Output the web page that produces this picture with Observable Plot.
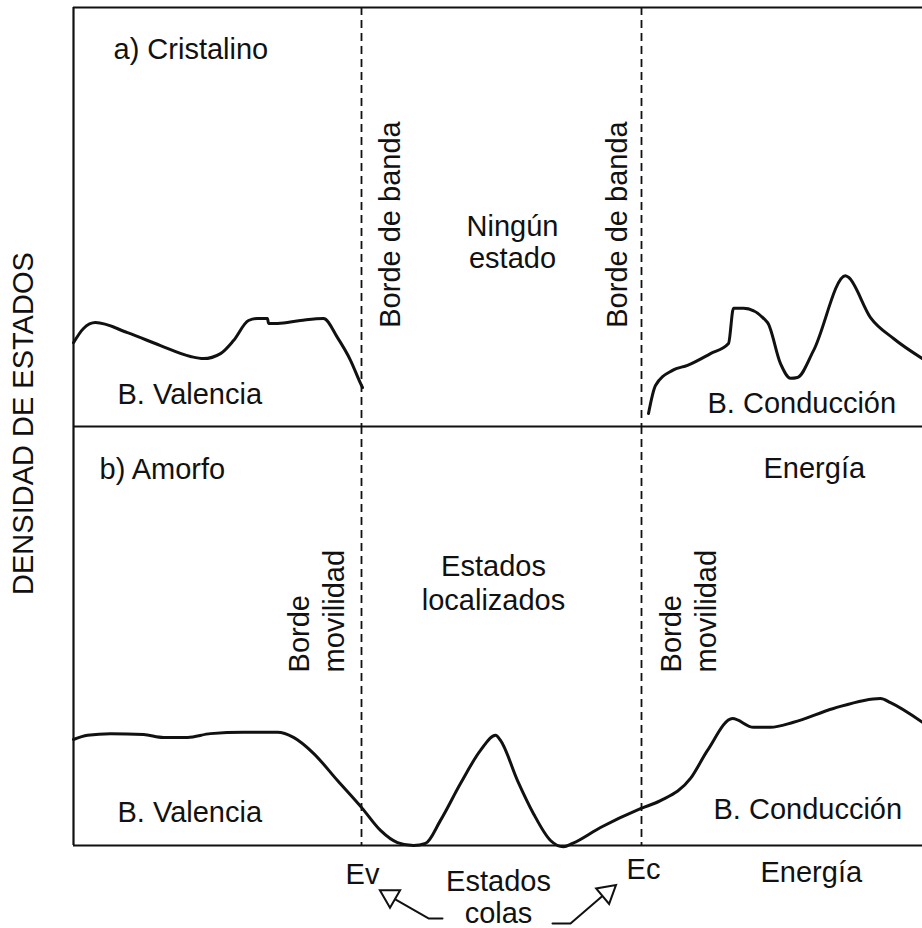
<!DOCTYPE html>
<html><head><meta charset="utf-8">
<script src="https://cdn.jsdelivr.net/npm/d3@7"></script>
<script src="https://cdn.jsdelivr.net/npm/@observablehq/plot@0.6"></script>
<style>html,body{margin:0;padding:0;background:#fff} svg{display:block}</style>
</head><body><div id="chart"></div>
<script>
// Energy axis (arbitrary units) and band edges
const energyDomain = [0, 849];
const Ev = 288, Ec = 568;
const edgeLabels = ["Ev", "Ec"];

// a) Crystalline: valence band density of states
const crystValE = [0, 10, 22, 54, 87, 117, 130, 147, 160, 175, 184, 194, 195, 204, 227, 250, 264, 277, 287, 289];
const crystValD = [20.0, 23.4, 24.8, 22.4, 19.3, 16.7, 16.2, 17.4, 20.5, 25.3, 25.8, 25.8, 24.6, 24.6, 25.3, 25.8, 21.2, 15.8, 10.3, 9.3];
// a) Crystalline: conduction band density of states
const crystConE = [575, 582, 599, 614, 637, 655, 660, 670, 694, 707, 717, 724, 740, 772, 775, 797, 820, 849];
const crystConD = [3.1, 9.8, 13.4, 14.6, 17.4, 19.8, 28.2, 28.2, 24.8, 15.0, 11.5, 11.7, 18.1, 36.0, 35.6, 26.0, 21.0, 16.2];
// b) Amorphous: continuous density of states (valence, tails, localized, conduction)
const amorE = [0, 14, 37, 70, 90, 114, 137, 170, 204, 220, 240, 264, 289, 307, 324, 340, 352, 367, 387, 407, 422, 427, 444, 460, 477, 490, 499, 527, 567, 587, 617, 634, 659, 680, 697, 720, 760, 807, 817, 849];
const amorD = [25.3, 26.3, 26.7, 26.5, 25.8, 25.8, 26.7, 27.0, 27.0, 25.8, 22.0, 15.5, 8.8, 3.6, 0.7, 0.0, 0.5, 6.0, 14.8, 22.7, 26.3, 25.1, 15.5, 7.6, 1.2, -0.3, 0.5, 4.3, 8.8, 10.7, 16.0, 22.7, 30.3, 28.2, 28.2, 29.4, 32.7, 35.1, 34.1, 29.4];

// Annotations (text, panel, energy, density)
const labelsStart = [
  {panel: "a", text: "a) Cristalino", E: 40, v: 87.8},
  {panel: "a", text: "B. Valencia", E: 44, v: 5.3},
  {panel: "a", text: "B. Conducción", E: 634, v: 3.3},
  {panel: "b", text: "b) Amorfo", E: 26, v: 87.4},
  {panel: "b", text: "Energía", E: 690, v: 87.6},
  {panel: "b", text: "B. Valencia", E: 44, v: 5.5},
  {panel: "b", text: "B. Conducción", E: 640, v: 6.4},
  {panel: "b", text: "Energía", E: 687, v: -8.8}
];
const labelsMiddle = [
  {panel: "a", text: "Ningún\nestado", E: 439, v: 37.9, lh: 1.1},
  {panel: "b", text: "Estados\nlocalizados", E: 420, v: 56.1, lh: 1.2},
  {panel: "b", text: edgeLabels[0], E: 289, v: -9.1, lh: 1.2},
  {panel: "b", text: edgeLabels[1], E: 570, v: -7.9, lh: 1.2},
  {panel: "b", text: "Estados\ncolas", E: 425, v: -18.4, lh: 1.08}
];
const labelsRotMiddle = [
  {panel: "a", text: "Borde de banda", E: Ev + 29, v: 48.2},
  {panel: "a", text: "Borde de banda", E: Ec - 24, v: 48.2},
  {panel: "a", text: "DENSIDAD DE ESTADOS", E: -50, v: 0.7}
];
const labelsRotStart = [
  {panel: "b", text: "Borde\nmovilidad", E: 270, v: 41.3},
  {panel: "b", text: "Borde\nmovilidad", E: 642, v: 41.3}
];
// "Estados colas" arrows
const arrowLeftE = [369, 355, 317];
const arrowLeftD = [-17.4, -17.4, -12.2];
const arrowRightE = [479, 497, 533];
const arrowRightD = [-18.6, -18.6, -11.2];
const arrowHeads = [
  {panel: "b", E: 316.5, v: -12.1, angle: -60},
  {panel: "b", E: 533.6, v: -11.2, angle: 50}
];

const rows = (panel, E, D) => E.map((e, i) => ({panel, E: e, v: D[i]}));
const font = "'Liberation Sans', Arial, Helvetica, sans-serif";
const ink = "#111";
const fs = 29;

const chart = Plot.plot({
  width: 922, height: 928,
  marginTop: 6, marginBottom: 83, marginLeft: 73, marginRight: 0,
  x: {domain: energyDomain, axis: null},
  y: {domain: [0, 100], axis: null},
  fy: {domain: ["a", "b"], padding: 0, axis: null},
  style: {fontFamily: font, background: "#fff", color: ink, overflow: "visible"},
  marks: [
    // frame: left border, baselines, top border
    Plot.ruleX([0], {stroke: ink, strokeWidth: 2.2}),
    Plot.ruleY([0], {stroke: ink, strokeWidth: 2.2}),
    Plot.ruleY([{panel: "a", v: 100}], {y: "v", fy: "panel", stroke: ink, strokeWidth: 2.2}),
    // band / mobility edges
    Plot.ruleX([Ev, Ec], {stroke: ink, strokeWidth: 1.8, strokeDasharray: "8,5"}),
    // density of states curves
    Plot.line(rows("a", crystValE, crystValD), {x: "E", y: "v", fy: "panel", stroke: ink, strokeWidth: 3, curve: "monotone-x", strokeLinejoin: "round"}),
    Plot.line(rows("a", crystConE, crystConD), {x: "E", y: "v", fy: "panel", stroke: ink, strokeWidth: 3, curve: "monotone-x", strokeLinejoin: "round"}),
    Plot.line(rows("b", amorE, amorD), {x: "E", y: "v", fy: "panel", stroke: ink, strokeWidth: 3, curve: "monotone-x", strokeLinejoin: "round"}),
    // arrows
    Plot.line(rows("b", arrowLeftE, arrowLeftD), {x: "E", y: "v", fy: "panel", stroke: ink, strokeWidth: 2}),
    Plot.line(rows("b", arrowRightE, arrowRightD), {x: "E", y: "v", fy: "panel", stroke: ink, strokeWidth: 2}),
    Plot.dot(arrowHeads, {x: "E", y: "v", fy: "panel", symbol: "triangle", r: 7.5, rotate: "angle", fill: "#fff", stroke: ink, strokeWidth: 2}),
    // texts
    Plot.text(labelsStart, {x: "E", y: "v", fy: "panel", text: "text", textAnchor: "start", lineAnchor: "bottom", fontSize: fs, fill: ink}),
    ...labelsMiddle.map(d => Plot.text([d], {x: "E", y: "v", fy: "panel", text: "text", textAnchor: "middle", lineAnchor: "bottom", lineHeight: d.lh, fontSize: fs, fill: ink})),
    Plot.text(labelsRotMiddle, {x: "E", y: "v", fy: "panel", text: "text", textAnchor: "middle", lineAnchor: "middle", rotate: -90, fontSize: fs, fill: ink}),
    Plot.text(labelsRotStart, {x: "E", y: "v", fy: "panel", text: "text", textAnchor: "start", lineAnchor: "bottom", rotate: -90, lineHeight: 1.2, fontSize: fs, fill: ink})
  ]
});
document.getElementById("chart").appendChild(chart);
</script>
</body></html>
